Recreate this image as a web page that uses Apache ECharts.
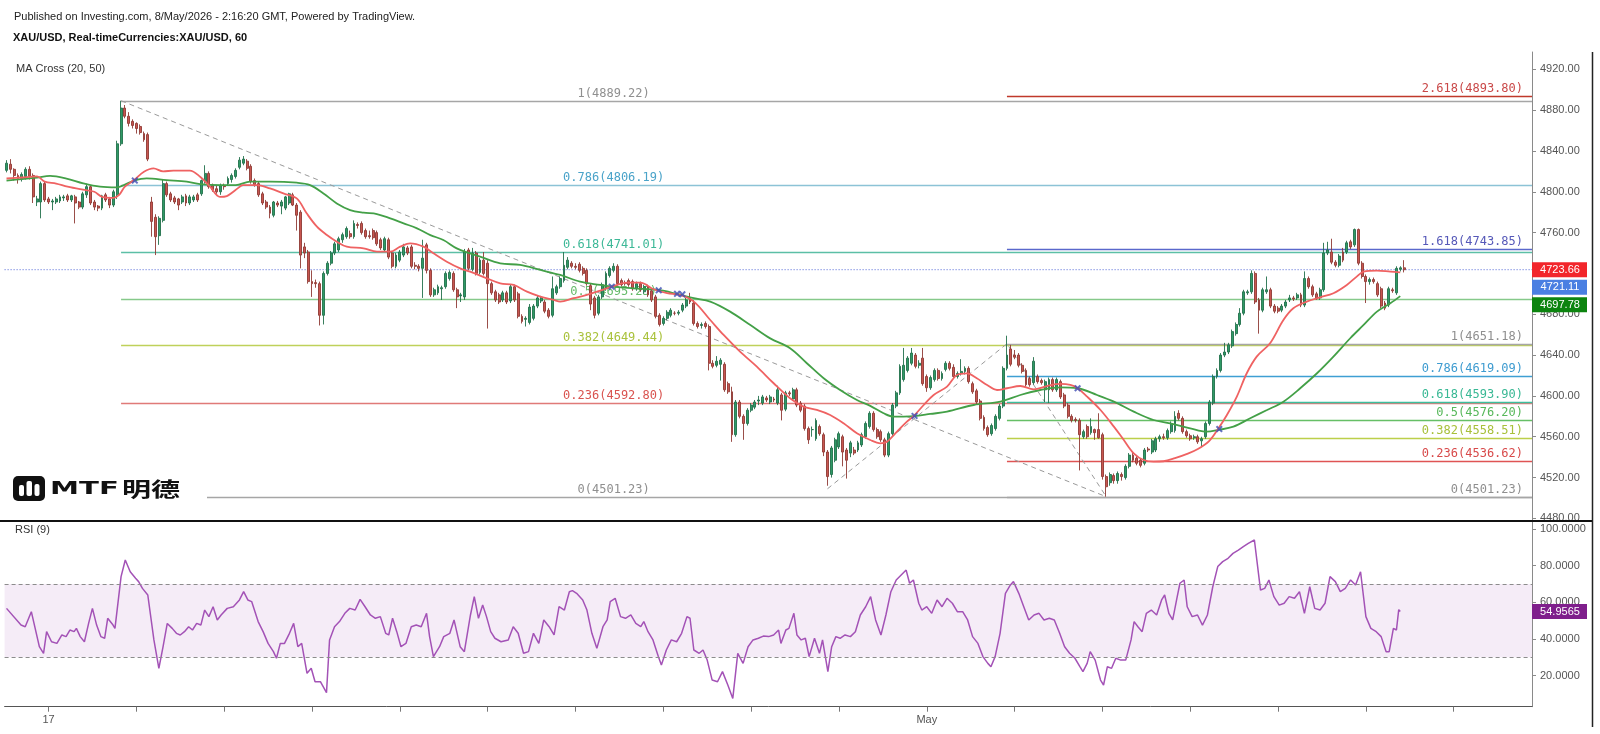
<!DOCTYPE html>
<html><head><meta charset="utf-8">
<script src="https://cdn.jsdelivr.net/npm/echarts@6/dist/echarts.min.js"></script>
<style>html,body{margin:0;padding:0;background:#fff}#c{width:1600px;height:734px}</style>
</head><body><div id="c"></div>
<script>
// ---------- data ----------
const SLOTS = 400;                 // bar slots on the time axis (366 used)
const dayTickStart = 11, barsPerDay = 23;
const dayLabels = {11: '17', 241: 'May'};

// hourly candles [open, high, low, close]
const ohlc = [
[4821,4831,4819,4828],[4827,4832,4818,4822],[4822,4823,4811,4816],[4816,4818,4808,4813],[4813,4819,4810,4817],
[4815,4824,4812,4822],[4822,4825,4812,4815],[4816,4818,4789,4795],[4790,4796,4786,4793],[4790,4810,4774,4808],
[4808,4810,4790,4792],[4793,4795,4788,4790],[4790,4793,4782,4791],[4790,4795,4788,4793],[4791,4797,4789,4795],
[4794,4797,4791,4795],[4796,4798,4790,4792],[4792,4797,4790,4796],[4795,4797,4769,4789],[4790,4791,4783,4785],
[4785,4800,4783,4798],[4797,4808,4794,4805],[4805,4806,4787,4789],[4790,4792,4782,4785],[4786,4787,4781,4784],
[4784,4797,4782,4796],[4797,4799,4790,4792],[4793,4795,4784,4787],[4787,4802,4785,4800],[4797,4850,4793,4847],
[4847,4889.22,4845,4882],[4882,4885,4872,4874],[4874,4878,4864,4867],[4869,4871,4862,4865],[4867,4868,4857,4862],
[4864,4866,4856,4858],[4857,4859,4849,4851],[4856,4858,4830,4832],
[4790,4795,4756,4771],[4775,4778,4738,4756],[4757,4776,4748,4774],[4772,4812,4770,4808],[4808,4810,4795,4797],
[4798,4800,4790,4792],[4794,4796,4788,4790],[4793,4794,4782,4787],[4790,4797,4788,4795],[4796,4798,4786,4789],
[4789,4797,4787,4795],[4792,4797,4790,4795],[4797,4799,4790,4792],[4798,4812,4796,4811],[4810,4826,4808,4818],
[4818,4820,4803,4805],[4806,4808,4800,4802],[4803,4806,4798,4800],[4800,4808,4797,4806],[4806,4808,4802,4805],
[4808,4815,4806,4813],[4812,4818,4809,4816],[4815,4823,4813,4821],
[4824,4834,4822,4831],[4828,4835,4826,4832],[4830,4832,4821,4823],[4825,4827,4808,4810],[4811,4813,4805,4807],
[4808,4810,4795,4797],[4798,4800,4787,4789],[4790,4792,4783,4785],[4785,4787,4774,4779],[4777,4791,4775,4790],
[4789,4791,4785,4787],[4786,4792,4778,4790],[4784,4796,4782,4795],[4789,4799,4787,4798],[4797,4799,4786,4787],
[4787,4789,4762,4777],[4780,4782,4725,4738],[4746,4750,4735,4740],[4741,4743,4710,4712],[4712,4723,4697,4710],
[4711,4714,4706,4710],[4710,4712,4669,4679],[4679,4722,4670,4720],[4720,4732,4718,4730],[4730,4742,4728,4740],
[4740,4751,4738,4749],[4743,4756,4741,4754],[4753,4760,4750,4758],[4756,4766,4754,4764],[4759,4762,4754,4756],
[4756,4772,4754,4769],[4768,4770,4764,4767],[4769,4771,4758,4760],[4762,4764,4754,4756],[4757,4762,4754,4756],
[4762,4764,4753,4755],[4760,4762,4747,4749],[4753,4755,4743,4745],[4743,4756,4741,4754],[4753,4755,4734,4736],
[4740,4742,4725,4727],[4727,4740,4725,4738],[4733,4743,4731,4741],[4738,4749,4736,4746],[4745,4747,4738,4740],
[4746,4748,4725,4727],[4728,4731,4724,4727],[4727,4729,4722,4725],[4725,4753,4696,4735],[4748,4750,4720,4723],
[4723,4725,4697,4699],[4699,4706,4697,4704],[4701,4709,4699,4707],[4705,4708,4694,4706],[4707,4722,4705,4720],
[4715,4723,4713,4721],[4720,4722,4702,4704],[4704,4706,4686,4697],[4698,4701,4692,4699],[4697,4744,4694,4741],
[4743,4745,4723,4725],[4724,4745,4722,4740],[4740,4742,4718,4720],[4721,4735,4719,4733],[4733,4741,4718,4720],
[4730,4733,4666,4710],[4710,4712,4699,4701],[4702,4704,4692,4694],[4699,4701,4690,4692],[4694,4703,4692,4701],
[4701,4703,4690,4692],[4693,4709,4691,4707],[4707,4709,4692,4694],[4700,4702,4676,4678],[4678,4680,4671,4673],
[4675,4678,4668,4676],[4672,4690,4670,4687],[4676,4690,4674,4688],[4688,4698,4686,4696],[4693,4698,4691,4696],
[4692,4694,4681,4683],[4684,4686,4676,4678],[4679,4717,4677,4705],[4701,4709,4699,4707],[4707,4717,4705,4715],
[4713,4741,4711,4728],[4726,4736,4724,4733],[4730,4732,4725,4727],[4727,4730,4724,4726],[4729,4731,4721,4723],
[4725,4727,4718,4720],[4723,4725,4708,4710],[4708,4710,4684,4690],[4696,4698,4676,4679],[4681,4699,4679,4697],
[4697,4711,4695,4709],[4705,4722,4703,4720],[4718,4727,4716,4725],[4723,4730,4721,4727],[4727,4729,4708,4710],
[4713,4715,4707,4709],[4711,4713,4708,4710],[4713,4715,4707,4709],[4712,4714,4703,4705],[4705,4712,4703,4710],
[4710,4712,4702,4704],[4702,4709,4700,4707],[4707,4709,4697,4699],[4703,4705,4692,4694],[4697,4699,4676,4678],
[4679,4681,4668,4670],[4671,4678,4669,4676],[4676,4684,4674,4682],[4679,4686,4677,4684],[4681,4683,4679,4681],
[4681,4684,4679,4682],[4684,4691,4682,4689],[4688,4696,4686,4694],[4696,4701,4690,4692],[4691,4694,4669,4671],
[4671,4673,4666,4668],[4669,4672,4666,4670],[4671,4673,4666,4668],[4668,4670,4625,4632],[4632,4635,4627,4629],
[4630,4639,4628,4634],[4631,4637,4615,4635],[4631,4633,4604,4606],[4612,4614,4602,4604],[4604,4609,4555,4562],
[4562,4596,4560,4594],[4594,4596,4578,4580],[4580,4582,4557,4573],[4573,4588,4571,4586],[4586,4593,4584,4591],
[4589,4596,4587,4594],[4595,4600,4591,4596],[4593,4601,4591,4599],[4598,4600,4594,4596],[4594,4601,4592,4599],
[4597,4599,4594,4596],[4593,4610,4591,4606],[4601,4603,4576,4586],[4587,4605,4585,4603],[4603,4605,4600,4602],
[4597,4608,4595,4606],[4606,4608,4589,4591],[4593,4595,4584,4586],[4590,4592,4566,4568],[4568,4570,4553,4557],
[4567,4570,4560,4567],[4558,4578,4556,4576],[4570,4572,4561,4563],[4562,4564,4541,4545],[4545,4547,4512,4521],
[4523,4551,4520,4549],[4537,4559,4535,4557],[4550,4565,4548,4563],[4560,4562,4531,4545],[4547,4549,4519,4537],
[4544,4556,4540,4554],[4547,4550,4542,4544],[4547,4556,4545,4554],[4552,4564,4550,4562],[4560,4575,4558,4573],
[4570,4585,4568,4583],[4583,4585,4565,4567],[4567,4569,4558,4560],[4565,4567,4555,4557],[4557,4559,4540,4542],
[4542,4565,4540,4563],[4563,4593,4561,4591],[4590,4605,4588,4603],[4603,4631,4601,4629],[4616,4647,4614,4630],
[4625,4639,4623,4637],[4632,4647,4630,4642],[4640,4642,4627,4629],[4630,4635,4627,4632],[4637,4647,4610,4612],
[4619,4621,4604,4608],[4608,4620,4606,4618],[4616,4627,4614,4625],[4625,4627,4615,4617],
[4617,4624,4615,4622],[4626,4634,4624,4632],[4632,4634,4625,4627],[4628,4631,4617,4619],[4619,4624,4617,4622],
[4622,4636,4620,4624],[4624,4629,4621,4627],[4627,4629,4612,4614],[4612,4614,4602,4604],[4605,4607,4592,4594],
[4595,4597,4576,4578],[4579,4581,4566,4568],[4569,4571,4560,4562],[4563,4573,4561,4571],[4568,4582,4566,4580],
[4578,4592,4576,4590],[4590,4629,4588,4627],[4627,4659,4625,4640],[4646,4650,4629,4631],[4640,4645,4636,4638],
[4640,4642,4628,4630],[4630,4632,4622,4624],[4625,4627,4609,4611],[4617,4619,4609,4611],[4613,4638,4611,4634],
[4619,4621,4612,4614],[4615,4617,4611,4613],[4606,4616,4594,4614],[4606,4618,4593,4616],[4616,4618,4604,4606],
[4606,4618,4604,4616],[4614,4616,4597,4599],[4601,4603,4588,4590],[4591,4593,4578,4580],[4580,4582,4574,4576],
[4577,4579,4574,4576],[4576,4578,4527,4562],[4560,4567,4558,4565],[4570,4572,4558,4560],[4564,4578,4562,4570],
[4567,4568,4557,4564],[4567,4583,4558,4559],[4562,4564,4518,4521],[4521,4523,4501.23,4511],[4515,4525,4512,4523],
[4522,4524,4514,4517],[4517,4526,4514,4524],[4523,4525,4517,4521],[4520,4533,4518,4531],[4531,4544,4529,4542],
[4542,4544,4535,4537],[4539,4541,4532,4534],[4537,4539,4530,4532],[4534,4549,4532,4547],[4548,4550,4545,4547],
[4545,4558,4543,4556],[4547,4560,4545,4558],
[4558,4562,4555,4560],[4560,4563,4557,4559],[4559,4568,4557,4566],[4565,4575,4563,4573],[4566,4585,4564,4580],
[4583,4586,4576,4578],[4578,4580,4563,4565],[4565,4567,4559,4561],[4561,4563,4556,4558],[4559,4562,4557,4560],
[4560,4562,4553,4555],[4556,4560,4550,4558],[4560,4575,4558,4573],[4573,4596,4571,4594],[4593,4621,4591,4619],
[4619,4627,4617,4625],[4625,4642,4623,4640],[4640,4652,4638,4643],[4643,4652,4641,4650],[4649,4665,4647,4663],
[4661,4672,4659,4670],[4670,4686,4668,4681],[4681,4704,4679,4702],[4701,4704,4699,4702],[4702,4723,4700,4720],
[4720,4722,4690,4692],[4694,4696,4661,4684],[4684,4706,4682,4704],[4702,4717,4700,4704],[4704,4706,4686,4688],
[4688,4690,4681,4683],[4686,4688,4681,4683],[4684,4690,4682,4688],[4688,4694,4686,4692],[4694,4699,4692,4696],
[4696,4698,4693,4695],[4696,4701,4694,4699],[4699,4701,4687,4689],[4689,4722,4687,4715],[4715,4717,4705,4707],
[4707,4709,4697,4699],[4700,4702,4694,4696],[4696,4706,4694,4704],[4704,4750,4702,4740],[4740,4751,4738,4743],
[4741,4754,4729,4731],[4731,4733,4726,4728],[4728,4739,4726,4737],[4741,4745,4731,4733],[4741,4752,4739,4750],
[4751,4753,4744,4746],[4748,4764,4746,4763],[4763,4764,4728,4730],[4730,4732,4715,4717],[4717,4719,4691,4712],
[4712,4716,4709,4714],[4714,4716,4710,4712],[4710,4712,4697,4699],[4705,4707,4686,4688],[4691,4693,4684,4686],
[4689,4707,4687,4705],[4704,4706,4701,4703],[4701,4727,4699,4725],[4724,4727,4722,4725.5],[4725.5,4733,4721,4723.66]
];

// MA(20) and MA(50): [bar index, value]
const ma20 = [[0,4813],[4,4814],[8,4815],[10,4810],[13,4808],[16,4805],[20,4802],[23,4800],[25,4795],[28,4794],[29.5,4797],[31,4805],[33.4,4811.5],[36,4819.7],[38.5,4823],[41,4820],[43.7,4820.7],[48,4820.7],[50.7,4814.8],[53.3,4805],[55.9,4795],[57.7,4795.8],[59.4,4800],[61.1,4805],[62,4806.6],[65.5,4806.6],[69,4803.3],[72.5,4798.4],[76,4793.5],[78.6,4778.9],[81.3,4765.8],[83.9,4757.6],[86.5,4751.1],[89.1,4746.2],[93.5,4744.6],[97,4741.3],[100.5,4741.3],[103.1,4746.2],[105.7,4749.5],[109.2,4746.2],[111.8,4739.7],[115.3,4731.5],[118.8,4725],[121.4,4721.7],[125.8,4715.2],[129.3,4710.3],[132.8,4708.7],[136.3,4702.2],[139.8,4697.3],[143.3,4694],[145,4692.4],[148.5,4695.7],[152,4698.9],[155.5,4703.2],[158.5,4707],[162.5,4711],[166,4711],[169.5,4704.5],[173,4700.6],[176.4,4698.9],[180,4692.4],[184.3,4674.4],[187.8,4659.7],[192.1,4643.4],[196.5,4628.7],[200.9,4612.4],[205.2,4597.7],[208.7,4589.5],[212.2,4586.3],[215.7,4581.3],[219.2,4573.2],[222.7,4563.4],[226.2,4556.8],[228.8,4553.6],[230.6,4555.2],[233.2,4565],[235.8,4574.8],[237.6,4580.4],[240.2,4591.1],[242.8,4600.9],[246.3,4609.1],[248.9,4620.5],[251.5,4622.1],[254.1,4617.3],[256.8,4610.7],[259.4,4605.8],[262,4607.5],[265.5,4609.7],[269,4606.5],[272.5,4609.7],[276,4611.7],[278.6,4610.7],[280.5,4607.5],[283,4599.3],[286.5,4586.2],[290,4569.9],[292.6,4556.8],[295.2,4543.8],[297.8,4537.2],[300.4,4535.6],[303,4536],[306,4539],[309,4543],[312,4548],[315,4556],[317.4,4568.3],[319.6,4581.3],[322.2,4599.3],[324.8,4622.2],[327.4,4638.5],[330.9,4651.6],[334.4,4674.4],[337,4685.9],[340.5,4692.4],[344,4696.6],[347.5,4700.6],[351,4708.7],[353.6,4716.9],[355.4,4721.8],[358.9,4722.8],[362.4,4721.8],[365,4721.11]];
const ma50 = [[0,4811],[4,4812.5],[8,4814],[11.4,4815.5],[15.7,4813],[20.1,4808.3],[24.5,4805],[28.9,4804.3],[31,4807],[33.4,4811],[36.7,4813.2],[41.9,4811.5],[47.2,4809.9],[50.7,4807.6],[55.9,4806.6],[60,4806.6],[63.8,4809.9],[69,4809.9],[76,4808.9],[79.5,4806.6],[83,4798.4],[86.5,4788.6],[90,4782.1],[93.5,4779.5],[97,4778.2],[100.5,4774],[104,4769.1],[107.5,4764.2],[111,4757.6],[114.4,4752.7],[117.9,4744.6],[121.4,4739.7],[124,4736.5],[129.3,4729.9],[134.5,4728.3],[139.8,4723.4],[145,4718.5],[150.2,4712],[155.5,4708.7],[158.5,4707],[164.2,4705.4],[170.8,4703.8],[175.6,4699.9],[180,4695.7],[184.3,4692.4],[189.5,4682.6],[194.8,4669.5],[200,4656.4],[205.2,4646.7],[209.6,4632],[214,4617.3],[218.3,4605.8],[222.7,4596],[226.2,4590.2],[229.7,4583],[232.3,4579.7],[234.9,4579.7],[238.4,4580.4],[241.9,4582.3],[246.3,4584.6],[253.3,4591.1],[260.3,4594.4],[265.5,4600.9],[270.7,4605.8],[276,4608.4],[280.5,4607.5],[285.6,4600.9],[290,4594.4],[295.2,4584.6],[300.4,4576.4],[304.7,4573.2],[310,4568.3],[314.3,4565],[317.4,4566.7],[321.3,4569.9],[325.7,4578.1],[330.1,4586.2],[334.4,4594.4],[338.8,4607.5],[343.2,4622.2],[347.5,4638.5],[351.9,4656.5],[355.4,4669.5],[358.9,4682.6],[362.4,4690.8],[365,4697.78]];

// MA cross markers [bar index, price]
const crosses = [[33.6,4811],[158.5,4707],[170.8,4703.5],[175.6,4700],[177,4699.5],[237.8,4580.4],[280.5,4607.5],[317.6,4567.5]];

// RSI(9): [bar index, value]
const rsi9 = [[0,56.7],[3.8,47.6],[4.9,46.7],[6.5,54.9],[8.6,35.8],[9.7,32.2],[10.5,44],[11.8,38.5],[13.2,37.6],[14.5,42.2],[15.6,41.3],[16.6,44.9],[17.7,44],[18.3,45.8],[19.3,41.3],[20.4,38.5],[21.5,48.5],[22.5,56.7],[23.6,47.6],[24.7,41.3],[25.7,40.4],[26.5,51.3],[27.9,47.6],[28.4,45.8],[30,74],[31.1,83.1],[32.4,76.7],[33.8,73.1],[34.6,71.3],[35.6,67.6],[37,64],[38.6,39.5],[39.9,24],[41,35.8],[42.1,48.5],[43.4,45.8],[44.5,43.1],[45.5,42.2],[46.6,44],[47.7,46.7],[48.7,44.9],[49.8,48.5],[50.9,47.6],[51.9,55.8],[53,52.2],[54.1,57.6],[55.2,50.4],[56.2,53.1],[57.8,56.7],[59.4,57.6],[61,61.3],[62.1,65.8],[63.2,61.3],[64.2,60.4],[65.9,49.5],[67.2,44],[68.5,37.6],[69.9,33.1],[70.7,29.5],[71.7,37.6],[72.8,37.6],[74.1,43.1],[75.2,48.5],[76.3,35.8],[77.3,37.6],[78.7,21.3],[79.8,24],[80.8,16.7],[82.2,16.7],[83.8,10.7],[84.6,39.5],[85.9,46.7],[87.2,49.5],[88.6,54],[89.9,56.7],[91.3,55.8],[92.6,61.6],[93.9,57.6],[95.3,53.1],[96.6,51.3],[97.9,52.2],[99.3,43.1],[100.1,42.2],[101.1,51.3],[102.2,44],[103.3,35.8],[104.6,37.6],[106,46.7],[107.3,47.6],[108.6,46.7],[110,54],[110.8,41.3],[111.8,30.4],[113.4,35.8],[114.5,41.3],[116.1,43.1],[117.2,50.4],[118.8,35.8],[119.9,33.1],[121.5,53.1],[122.5,63.1],[123.6,51.3],[124.7,58.5],[125.7,52.2],[126.8,44],[127.9,40.4],[129.5,38.5],[131.4,39.5],[132.7,46.7],[134,43.1],[135.4,32.2],[136.7,33.1],[138,43.1],[139.4,37.6],[140.7,50.4],[142.1,46.7],[143.4,42.2],[144.7,57.6],[146.1,55.8],[147.4,65.8],[148.2,66.4],[149.3,64.9],[150.9,61.3],[152,55.8],[153.3,43.1],[154.6,34.9],[156.2,46.7],[157.3,50.4],[158.1,60.4],[159.4,62.2],[160.8,52.2],[162.1,51.3],[163.5,53.1],[164.8,48.5],[166.1,46.7],[166.9,49.5],[168,44],[169.3,39.5],[170.7,30.4],[171.5,25.8],[172.8,34],[174.1,39.5],[175.5,38.5],[176.8,43.1],[178.2,52.2],[179,51.3],[180,34],[181.4,32.2],[182.4,34],[183.5,28.5],[184.8,17.6],[186.2,16.7],[187.5,22.2],[188.9,14.9],[190.2,7.6],[191.5,32.2],[192.9,26.7],[194.2,35.8],[195.5,39.5],[196.9,40.4],[198.2,41.6],[199.6,41.3],[200.9,42.2],[202.2,44.9],[202.8,37.6],[204.1,44.9],[204.9,45.8],[206.2,54],[207,42.2],[208.1,39.5],[209.2,40.4],[210.2,30.4],[211.6,40.4],[212.9,32.2],[213.7,39.5],[215.1,22.2],[216.1,35.8],[217.2,41.3],[218.3,40.4],[219.6,42.2],[221,41.3],[222.3,44],[223.6,53.1],[225,57.6],[226.3,63.1],[227.6,50.4],[229,42.2],[230.3,53.1],[231.6,65.8],[233,72.2],[234.3,74.9],[235.6,77.6],[236.5,70.4],[237.5,72.2],[238.9,59.5],[239.7,55.8],[241,57.6],[242.3,54],[243.7,61.3],[245,57.6],[246.3,62.2],[247.7,59.5],[249,54.9],[250.4,54.9],[251.7,50.4],[253,41.3],[254.4,37.6],[255.7,30.4],[257,26.7],[257.8,24.9],[258.9,30.4],[260.2,43.1],[261.6,64.9],[262.9,69.5],[263.7,71.3],[265.1,64.9],[266.4,57.6],[267.7,50.4],[269.1,53.1],[270.4,54],[271.7,50.4],[273.1,51.3],[274.4,50.4],[275.8,43.1],[277.1,35.8],[278.4,32.2],[279.8,29.5],[281.1,24.9],[281.9,22.2],[283,26.7],[283.8,33.1],[285.1,28.5],[286.5,17.6],[287.3,14.9],[288.3,24.9],[289.4,24],[290.5,29.5],[291.8,28.5],[293.1,28.5],[294.5,39.5],[295.3,49.5],[296.3,46.7],[297.4,44],[298.5,54],[299.8,55.8],[301.2,53.1],[302.5,61.3],[303.3,64],[304.4,54],[305.4,50.4],[306.5,62.2],[307.3,70.4],[308.4,72.2],[309.2,57.6],[310.5,52.2],[311.9,53.1],[313.2,47.6],[314.5,53.1],[315.9,68.5],[317.2,79.5],[318.5,82.2],[319.9,84],[321.2,86.7],[322.6,88.5],[323.9,90.4],[325.2,92.2],[326.8,94],[328.4,66.7],[329.5,67.6],[330.6,72.2],[331.9,63.1],[333.3,58.5],[334.6,59.5],[335.9,63.1],[337.3,62.2],[338.6,65.8],[339.9,54],[341.3,68.5],[342.6,56.7],[344,55.8],[345.3,59.5],[346.6,74],[348,71.3],[349.3,65.8],[350.6,67.6],[352,72.2],[353.3,69.5],[354.6,76.7],[356,52.2],[357.3,45.8],[358.7,44],[360,41.3],[361.3,33.1],[362.1,33.1],[363.2,45.8],[364,44.9],[364.6,56],[365,54.9565]];

// Fibonacci tools: [ratio label, price]
const fibLeft = [['1',4889.22],['0.786',4806.19],['0.618',4741.01],['0.5',4695.25],['0.382',4649.44],['0.236',4592.80],['0',4501.23]];
const fibLeftLine = ['#a6a6a6','#8cc3d6','#5cbfa6','#86c98a','#bfd15a','#e07a78','#a6a6a6'];
const fibLeftText = ['#8f8f8f','#4aa3c9','#3db897','#66bb6a','#aac23c','#d9534f','#8f8f8f'];
const fibLeftSpan = [30, 288];
const fibRight = [['2.618',4893.80],['1.618',4743.85],['1',4651.18],['0.786',4619.09],['0.618',4593.90],['0.5',4576.20],['0.382',4558.51],['0.236',4536.62],['0',4501.23]];
const fibRightLine = ['#c0392b','#5a68cc','#a6a6a6','#3e9fd3','#3dbf9e','#66bf66','#bccf4a','#df5454','#a6a6a6'];
const fibRightText = ['#c94848','#5558b8','#8f8f8f','#3d9bd0','#38b894','#57b85a','#a8c03a','#d84a4a','#8f8f8f'];
const fibRightStart = 262;
const diagonals = [[[30,4889.22],[288,4501.23]], [[215,4509],[262,4651.18],[288,4501.23]]];

const priceTicks = [4480,4520,4560,4600,4640,4680,4720,4760,4800,4840,4880,4920];
const rsiTicks = [20,40,60,80,100];
const lastPrice = 4723.66, ma20Last = 4721.11, ma50Last = 4697.78, rsiLast = 54.9565;
const priceTags = [lastPrice, ma20Last, ma50Last];
const priceTagColors = ['#f2262b','#4a7fe2','#0c840f'];

// ---------- chart ----------
const cats = Array.from({length: SLOTS}, (_, i) => 'b' + i);
const isDayTick = i => i >= dayTickStart && (i - dayTickStart) % barsPerDay === 0;
const monoFont = '12px "DejaVu Sans Mono"';

function fibSeries(levels, lineCols, textCols, startIdx, endIdx, side) {
  return {
    type: 'custom', xAxisIndex: 1, yAxisIndex: 0, z: 1, silent: true,
    data: levels.map(l => [startIdx, l[1]]),
    renderItem: function (params, api) {
      const k = params.dataIndex, lv = levels[k];
      const p = api.coord([startIdx, lv[1]]);
      const cs = params.coordSys;
      const xr = cs.x + cs.width;
      const y = Math.round(p[1]) + 0.5;
      let tx, align;
      if (side === 'center') { tx = api.coord([(startIdx + endIdx) / 2, lv[1]])[0]; align = 'center'; }
      else { tx = xr - 9; align = 'right'; }
      return { type: 'group', children: [
        { type: 'line', shape: { x1: p[0], y1: y, x2: xr, y2: y }, style: { stroke: lineCols[k], lineWidth: 1.3 } },
        { type: 'text', style: { text: lv[0] + '(' + lv[1].toFixed(2) + ')', x: tx, y: y - 2, align: align, verticalAlign: 'bottom', fill: textCols[k], font: monoFont } }
      ]};
    }
  };
}

function tagSeries(values, colors, xIdx, yIdx, digits) {
  return {
    type: 'custom', xAxisIndex: xIdx, yAxisIndex: yIdx, z: 20, silent: true,
    data: values.map(v => [SLOTS - 0.5, v]),
    renderItem: function (params, api) {
      const ys = values.map(v => api.coord([SLOTS - 0.5, v])[1]);
      for (let k = 1; k < ys.length; k++) ys[k] = Math.max(ys[k], ys[k - 1] + 17.5);
      const cs = params.coordSys, x0 = cs.x + cs.width, k = params.dataIndex;
      return { type: 'group', children: [
        { type: 'rect', shape: { x: x0, y: ys[k] - 7.5, width: 55, height: 15 }, style: { fill: colors[k] } },
        { type: 'text', style: { text: values[k].toFixed(digits), x: x0 + 28, y: ys[k], align: 'center', verticalAlign: 'middle', fill: '#fff', font: '11px "Liberation Sans"' } }
      ]};
    }
  };
}

const chart = echarts.init(document.getElementById('c'), null, { renderer: 'canvas', width: 1600, height: 734 });
const option = {
  animation: false,
  backgroundColor: '#ffffff',
  grid: [
    { left: 4.6, right: 68, top: 52, height: 469 },
    { left: 4.6, right: 68, top: 522, height: 184.7 }
  ],
  xAxis: [
    { type: 'category', gridIndex: 0, data: cats, boundaryGap: true, show: false },
    { type: 'value', gridIndex: 0, min: -0.5, max: SLOTS - 0.5, show: false },
    { type: 'category', gridIndex: 1, data: cats, boundaryGap: true,
      axisLine: { show: true, onZero: false, lineStyle: { color: '#555', width: 1 } },
      axisTick: { show: true, alignWithLabel: true, interval: (i) => isDayTick(i), length: 5, lineStyle: { color: '#777' } },
      axisLabel: { show: true, interval: (i) => isDayTick(i), formatter: (v, i) => dayLabels[i] || '', color: '#555', fontSize: 11, fontFamily: 'Liberation Sans', margin: 8 },
      splitLine: { show: false } },
    { type: 'value', gridIndex: 1, min: -0.5, max: SLOTS - 0.5, show: false }
  ],
  yAxis: [
    { type: 'value', gridIndex: 0, position: 'right', min: 4477.45, max: 4936.95,
      axisLine: { show: true, onZero: false, lineStyle: { color: '#8a8a8a' } },
      axisTick: { show: true, length: 4, customValues: priceTicks, lineStyle: { color: '#8a8a8a' } },
      axisLabel: { customValues: priceTicks, formatter: v => v.toFixed(2), color: '#555', fontSize: 11, fontFamily: 'Liberation Sans', margin: 8 },
      splitLine: { show: false } },
    { type: 'value', gridIndex: 1, position: 'right', min: 3.07, max: 103.82,
      axisLine: { show: true, onZero: false, lineStyle: { color: '#8a8a8a' } },
      axisTick: { show: true, length: 4, customValues: rsiTicks, lineStyle: { color: '#8a8a8a' } },
      axisLabel: { customValues: rsiTicks, formatter: v => v.toFixed(4), color: '#555', fontSize: 11, fontFamily: 'Liberation Sans', margin: 8 },
      splitLine: { show: false } }
  ],
  series: [
    fibSeries(fibLeft, fibLeftLine, fibLeftText, fibLeftSpan[0], fibLeftSpan[1], 'center'),
    fibSeries(fibRight, fibRightLine, fibRightText, fibRightStart, fibRightStart, 'right'),
    { type: 'line', xAxisIndex: 1, yAxisIndex: 0, data: diagonals[0], showSymbol: false, z: 2, silent: true,
      lineStyle: { color: '#9a9a9a', width: 1, type: [5, 4] } },
    { type: 'line', xAxisIndex: 1, yAxisIndex: 0, data: diagonals[1], showSymbol: false, z: 2, silent: true,
      lineStyle: { color: '#9a9a9a', width: 1, type: [5, 4] } },
    { type: 'line', xAxisIndex: 1, yAxisIndex: 0, data: [[-0.5, lastPrice], [SLOTS - 0.5, lastPrice]], showSymbol: false, z: 2, silent: true,
      lineStyle: { color: '#4d63d6', width: 1, type: [1, 2] } },
    { type: 'candlestick', xAxisIndex: 0, yAxisIndex: 0, z: 3, barWidth: 2.4,
      data: ohlc.map(d => [d[0], d[3], d[2], d[1]]),
      itemStyle: { color: '#2f9a66', color0: '#c85650', borderColor: '#23704c', borderColor0: '#8f3a34', borderWidth: 0.9 } },
    { type: 'line', xAxisIndex: 1, yAxisIndex: 0, data: ma50, smooth: 0.35, showSymbol: false, z: 4, silent: true,
      lineStyle: { color: '#43a047', width: 1.8 } },
    { type: 'line', xAxisIndex: 1, yAxisIndex: 0, data: ma20, smooth: 0.35, showSymbol: false, z: 4, silent: true,
      lineStyle: { color: '#ef6262', width: 1.8 } },
    { type: 'scatter', xAxisIndex: 1, yAxisIndex: 0, data: crosses, z: 5, silent: true,
      symbol: 'path://M2,0L5,3L8,0L10,2L7,5L10,8L8,10L5,7L2,10L0,8L3,5L0,2Z', symbolSize: 7,
      itemStyle: { color: '#3f4fb5' } },
    { type: 'line', xAxisIndex: 3, yAxisIndex: 1, data: rsi9, showSymbol: false, z: 4, silent: true,
      lineStyle: { color: '#a352b6', width: 1.5 },
      markArea: { silent: true, itemStyle: { color: 'rgba(160, 80, 180, 0.11)' }, data: [[{ yAxis: 30 }, { yAxis: 70 }]] },
      markLine: { silent: true, symbol: 'none', label: { show: false },
        lineStyle: { color: '#8c8c8c', width: 1, type: [4, 3] }, data: [{ yAxis: 70 }, { yAxis: 30 }] } },
    tagSeries(priceTags, priceTagColors, 1, 0, 2),
    tagSeries([rsiLast], ['#7f1f8c'], 3, 1, 4)
  ],
  graphic: [
    { type: 'text', z: 50, style: { text: 'Published on Investing.com, 8/May/2026 - 2:16:20 GMT, Powered by TradingView.', x: 14, y: 17, verticalAlign: 'middle', font: '11px "Liberation Sans"', fill: '#222' } },
    { type: 'text', z: 50, style: { text: 'XAU/USD, Real-timeCurrencies:XAU/USD, 60', x: 13, y: 38, verticalAlign: 'middle', font: 'bold 11px "Liberation Sans"', fill: '#111' } },
    { type: 'text', z: 50, style: { text: 'MA Cross (20, 50)', x: 16, y: 69, verticalAlign: 'middle', font: '11px "Liberation Sans"', fill: '#333' } },
    { type: 'text', z: 50, style: { text: 'RSI (9)', x: 15, y: 530, verticalAlign: 'middle', font: '11px "Liberation Sans"', fill: '#333' } },
    { type: 'rect', z: 50, shape: { x: 0, y: 468, width: 207, height: 38 }, style: { fill: '#fff' } },
    { type: 'rect', z: 51, shape: { x: 13, y: 476, width: 32, height: 25, r: 5 }, style: { fill: '#111' } },
    { type: 'rect', z: 52, shape: { x: 19, y: 485, width: 5, height: 11, r: 2 }, style: { fill: '#fff' } },
    { type: 'rect', z: 52, shape: { x: 26.5, y: 481, width: 5.5, height: 15, r: 2 }, style: { fill: '#fff' } },
    { type: 'rect', z: 52, shape: { x: 34.5, y: 484, width: 5, height: 12, r: 2 }, style: { fill: '#fff' } },
    { type: 'text', z: 52, x: 50, y: 489, scaleX: 1.62, style: { text: 'MTF', x: 0, y: 0, verticalAlign: 'middle', font: 'bold 18px "DejaVu Sans"', fill: '#111' } },
    { type: 'text', z: 52, x: 122, y: 489, scaleX: 1.45, style: { text: '明德', x: 0, y: 0, verticalAlign: 'middle', font: 'bold 20px "Noto Sans CJK SC"', fill: '#111' } },
    { type: 'line', z: 60, shape: { x1: 0, y1: 521, x2: 1593, y2: 521 }, style: { stroke: '#111', lineWidth: 2 } },
    { type: 'line', z: 60, shape: { x1: 1592.5, y1: 52, x2: 1592.5, y2: 727 }, style: { stroke: '#222', lineWidth: 1.5 } }
  ]
};
chart.setOption(option);
</script>
</body></html>
